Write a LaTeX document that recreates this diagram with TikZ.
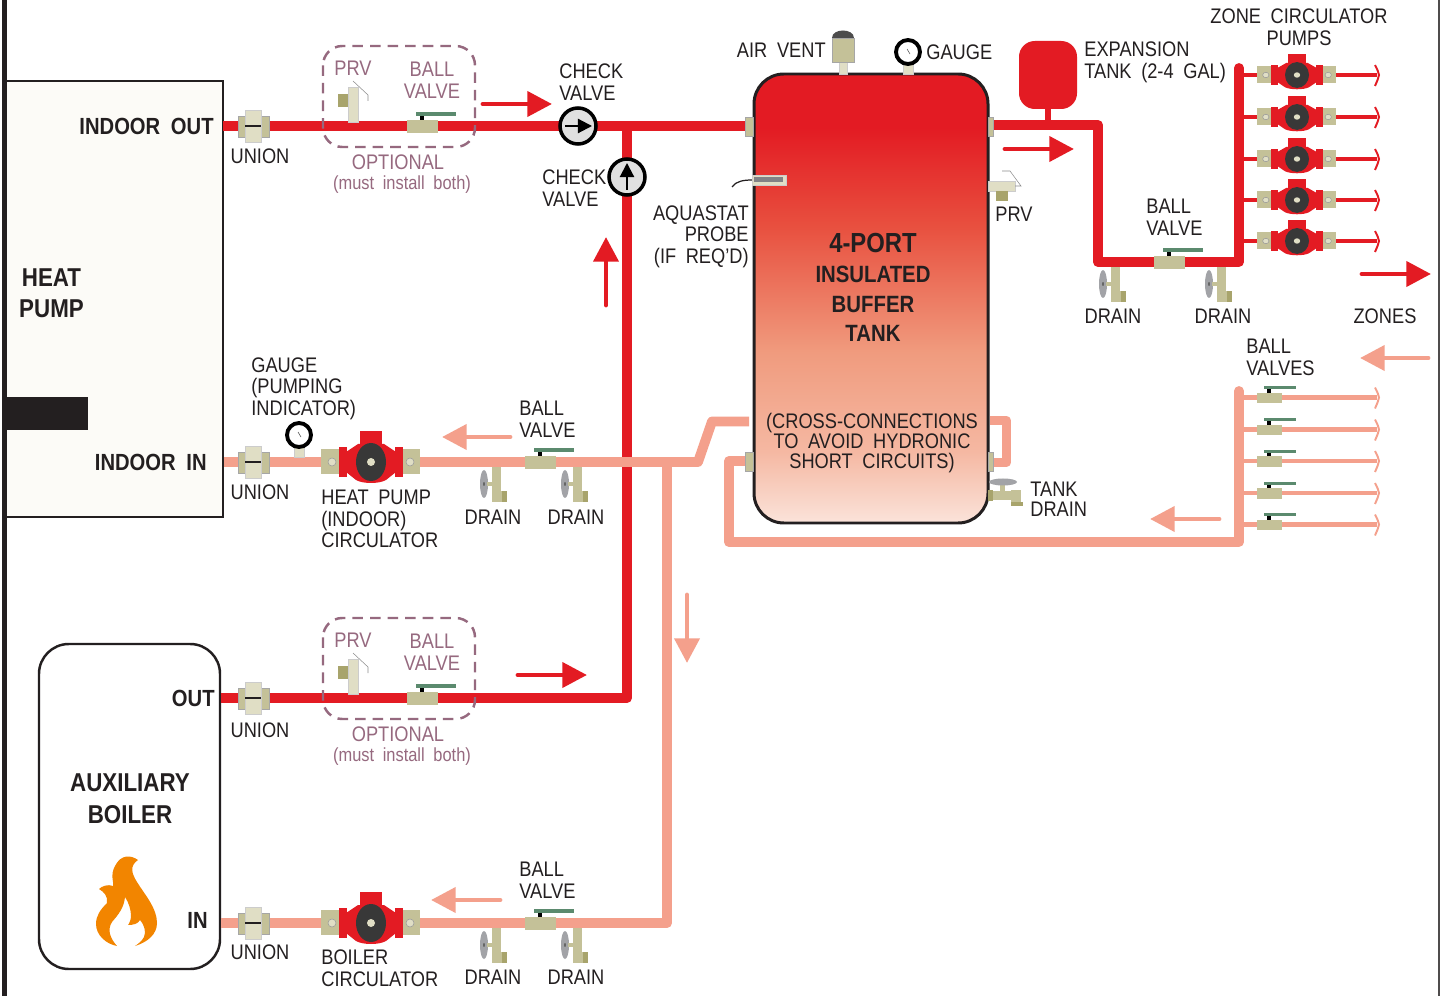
\documentclass[tikz,border=0pt]{standalone}
\usepackage{fontspec}
\setmainfont[FakeStretch=0.865,WordSpace=1.9]{Liberation Sans}
\usetikzlibrary{arrows.meta}
\definecolor{hotred}{HTML}{E31B23}
\definecolor{coolpink}{HTML}{F4A08C}
\definecolor{brass}{HTML}{C4C198}
\definecolor{palebrass}{HTML}{E0DEC5}
\definecolor{darkbrass}{HTML}{A8A46C}
\definecolor{lever}{HTML}{5B8A6E}
\definecolor{plum}{HTML}{96697F}
\definecolor{ink}{HTML}{231F20}
\definecolor{knob}{HTML}{A2A3A7}
\definecolor{flame}{HTML}{F28500}
\definecolor{cream}{HTML}{FCFBF7}
\definecolor{tankA}{HTML}{E8503F}
\definecolor{tankB}{HTML}{F09B7E}
\definecolor{tankC}{HTML}{F5B8A2}
\definecolor{tankD}{HTML}{FBE3DA}
\pgfdeclareverticalshading{tankfade}{100bp}{
	color(0bp)=(tankD);
	color(25bp)=(tankD); color(33bp)=(tankC); color(44bp)=(tankB);
	color(58bp)=(tankA); color(69bp)=(hotred); color(75bp)=(hotred); color(100bp)=(hotred)}
\tikzset{
	hotpipe/.style={draw=hotred, line width=5.6pt, line join=round},
	coolpipe/.style={draw=coolpink, line width=5.6pt, line join=round},
	hotflow/.style={draw=hotred, line width=2.8pt, line cap=round, -{Triangle[length=14pt,width=14pt,fill=hotred]}},
	coolflow/.style={draw=coolpink, line width=2.8pt, line cap=round, -{Triangle[length=14pt,width=14pt,fill=coolpink]}},
	txtlabel/.style={inner sep=0pt, text=ink, align=left, font=\fontsize{12}{12.3}\selectfont},
	optlabel/.style={txtlabel, text=plum},
	boldlabel/.style={inner sep=0pt, text=ink, align=center, font=\fontsize{13.3}{14}\selectfont\bfseries},
	fit brass/.style={fill=brass, draw=black!35, line width=0.3pt},
	fit pale/.style={fill=palebrass, draw=black!20, line width=0.3pt},
}
\def\unionfit(#1,#2){\begin{scope}[shift={(#1,#2)}]
	\draw[fit brass] (-15,-10) rectangle (16,11);
	\draw[fit pale] (-8,-16) rectangle (8,16);
	\draw[ink, line width=0.7pt] (-8,0) -- (8,0);
\end{scope}}
\def\ballvalve(#1,#2,#3){\begin{scope}[shift={(#1,#2)},scale=#3]
	\fill[lever] (-6,-14) rectangle (34,-10);
	\fill[black] (-2,-10) rectangle (2,-6);
	\fill[brass] (-15,-6) rectangle (16,7);
\end{scope}}
\def\drainvalve(#1,#2){\begin{scope}[shift={(#1,#2)}]
	\fill[knob] (-8,17) ellipse (4 and 14);
	\fill[black!60] (-8,17) ellipse (1 and 2);
	\fill[brass] (-5,15) rectangle (1,19);
	\fill[brass] (0,0) rectangle (9,27);
	\fill[brass] (0,24) rectangle (12,35);
	\fill[darkbrass] (10,24) rectangle (15,35);
\end{scope}}
\def\prvfit(#1,#2){\begin{scope}[shift={(#1,#2)}]
	\fill[darkbrass] (-10,-32) rectangle (0,-19);
	\draw[fit pale] (0,-39) rectangle (10,-4);
	\draw[black!45, line width=0.3pt] (5,-45) -- (20,-31) -- (20,-25);
\end{scope}}
\def\dialgauge(#1,#2){\begin{scope}[shift={(#1,#2)}]
	\draw[fit pale] (-5,12) rectangle (5,22);
	\draw[black, line width=2.2pt, fill=white] (0,0) circle (12);
	\draw[black!70, line width=0.3pt] (-1,-3) -- (2,2);
\end{scope}}
\def\circpump(#1,#2,#3,#4){\begin{scope}[shift={(#1,#2)},xscale=#3,yscale=#4]
	\fill[brass] (-50,-13) rectangle (-32,12);
	\fill[brass] (32,-13) rectangle (49,12);
	\draw[fill=palebrass, draw=black!40, line width=0.3pt] (-39,0) circle (4);
	\draw[fill=palebrass, draw=black!40, line width=0.3pt] (39,0) circle (4);
	\fill[hotred] (-11,-31) rectangle (11,-15);
	\fill[hotred] (-32,-15) rectangle (-24,15);
	\fill[hotred] (24,-15) rectangle (32,15);
	\fill[hotred] (-25,-10) -- (-13,-18) -- (13,-18) -- (25,-10) -- (25,10) -- (15,18)
		.. controls (8,22) and (-8,22) .. (-15,18) -- (-25,10) -- cycle;
	\fill[black!78] (0,0) ellipse (15 and 19);
	\fill[palebrass] (0,0) circle (4);
\end{scope}}
\def\pipeend(#1,#2,#3){\draw[#3, line width=1.1pt] (#1-4,#2-10) .. controls (#1-1,#2-4) .. (#1,#2) .. controls (#1-1,#2+4) .. (#1-4,#2+11);}
\def\checkvalve(#1,#2,#3){\begin{scope}[shift={(#1,#2)},rotate=#3]
	\draw[black, line width=2pt, fill=black!12] (0,0) circle (18);
	\draw[black, line width=1.2pt, -{Triangle[length=8pt,width=8pt]}] (-13,0) -- (14,0);
\end{scope}}

\begin{document}
\begin{tikzpicture}[x=0.02cm, y=-0.02cm]
	\useasboundingbox (0,0) rectangle (1440,996);
	%%%%% FRAME AND BOXES %%%%%
	\fill[white] (0,0) rectangle (1440,996);
	\draw[ink, line width=2.6pt] (4.5,0) -- (4.5,996);
	\draw[ink!80, line width=0.8pt] (1439,0) -- (1439,996);
	\draw[ink, line width=1.2pt, fill=cream] (6,81) rectangle (223,517);
	\fill[ink] (3,397) rectangle (88,430);
	\draw[ink, line width=1.4pt, rounded corners=17pt] (39,644) rectangle (220,969);

	%%%%% PIPES %%%%%
	\draw[hotpipe] (223,126) -- (750,126);
	\draw[hotpipe] (221,698) -- (627,698) -- (627,126);
	\draw[hotpipe] (990,125) -- (1098,125) -- (1098,262) -- (1239,262);
	\draw[hotpipe, line cap=round] (1239,262) -- (1239,68);
	\draw[hotpipe, line width=3.6pt] (1048,105) -- (1048,125);
	\draw[coolpipe] (224,462) -- (698,462) -- (712,421.5) -- (749,421.5);
	\draw[coolpipe] (221,923) -- (667,923) -- (667,462);
	\draw[coolpipe] (748,461) -- (729,461) -- (729,542) -- (1239,542);
	\draw[coolpipe, line cap=round] (1239,542) -- (1239,391);
	\draw[coolpipe, line width=5pt] (990,420.5) -- (1006.5,420.5) -- (1006.5,462.5) -- (990,462.5);

	%%%%% ZONES %%%%%
	\foreach \y in {75,117,159,200,241} {
		\draw[hotred, line width=2.8pt] (1239,\y) -- (1377,\y);
		\circpump(1297,\y,0.8,0.68)
		\pipeend(1379,\y,hotred)
	}
	\foreach \y in {397.5,429.5,461,493,524.5} {
		\draw[coolpink, line width=2.6pt] (1239,\y) -- (1377,\y);
		\ballvalve(1269,\y,0.8)
		\pipeend(1379,\y,coolpink)
	}

	%%%%% TANK %%%%%
	\draw[ink, line width=1.7pt, rounded corners=17pt, shading=tankfade] (754,74) rectangle (988,523);
	\draw[fit brass] (745,117) rectangle (753,136);
	\draw[fit brass] (988,117) rectangle (993,136);
	\draw[fit brass] (745,452) rectangle (753,471);
	\draw[fit brass] (988,452) rectangle (993,471);
	\fill[black!70] (832,38) .. controls (832,28) and (854,28) .. (854,38) -- cycle;
	\draw[fit pale] (839,62) rectangle (847,74);
	\draw[fit brass] (832,38) rectangle (854,62);
	\dialgauge(908,52)
	\fill[hotred, rounded corners=9pt] (1019,41) rectangle (1077,109);
	\draw[ink, line width=0.7pt] (732,187) .. controls (736,181) and (744,180) .. (752,180);
	\draw[fit pale] (752,175) rectangle (786,185);
	\fill[knob!80!black] (754,177) rectangle (783,182);
	\draw[fit pale] (988,181) rectangle (1015,191);
	\fill[darkbrass] (996,191) rectangle (1008,201);
	\draw[black!45, line width=0.3pt] (1002,171) -- (1010,171) -- (1021,186) -- (1015,186);
	\fill[darkbrass] (988,490) rectangle (993,501);
	\fill[brass] (993,491) rectangle (1015,500);
	\fill[brass] (1000,485) rectangle (1005,491);
	\fill[brass] (1011,490) rectangle (1021,503);
	\fill[darkbrass] (1011,502) rectangle (1023,506);
	\fill[knob] (1003,482) ellipse (14 and 3.5);

	%%%%% FITTINGS %%%%%
	\unionfit(253,126)
	\unionfit(253,462)
	\unionfit(253,698)
	\unionfit(253,923)
	\prvfit(348,126)
	\prvfit(348,698)
	\ballvalve(422,126,1)
	\ballvalve(422,698,1)
	\ballvalve(540,462,1)
	\ballvalve(540,923,1)
	\ballvalve(1169,262,1)
	\dialgauge(299,435)
	\circpump(371,462,1,1)
	\circpump(371,923,1,1)
	\drainvalve(492,467)
	\drainvalve(573,467)
	\drainvalve(492,928)
	\drainvalve(573,928)
	\drainvalve(1111,267)
	\drainvalve(1217,267)
	\checkvalve(578,126,0)
	\checkvalve(627,177,90)
	\draw[plum, line width=1.4pt, dash pattern=on 6pt off 4pt, rounded corners=11pt] (323,46) rectangle (475,147);
	\draw[plum, line width=1.4pt, dash pattern=on 6pt off 4pt, rounded corners=11pt] (323,618) rectangle (475,719);

	%%%%% FLOW ARROWS %%%%%
	\draw[hotflow] (483,104) -- (552,104);
	\draw[hotflow] (518,675) -- (587,675);
	\draw[hotflow] (606,305) -- (606,237);
	\draw[hotflow] (1005,149) -- (1074,149);
	\draw[hotflow] (1362,274) -- (1431,274);
	\draw[coolflow] (510,437) -- (442,437);
	\draw[coolflow] (500,900) -- (431,900);
	\draw[coolflow] (687,595) -- (687,663);
	\draw[coolflow] (1428,358) -- (1360,358);
	\draw[coolflow] (1219,519) -- (1150,519);

	%%%%% FLAME %%%%%
	\fill[flame] (138,860) .. controls (131,855) and (121,854) .. (115,866)
		.. controls (110,875) and (114,882) .. (113,886) .. controls (108,884) and (102,886) .. (99,889)
		.. controls (104,892) and (108,896) .. (107,903) .. controls (100,910) and (96,916) .. (96,924)
		.. controls (96,935) and (106,944) .. (117,946) .. controls (110,938) and (107,930) .. (112,922)
		.. controls (118,915) and (124,908) .. (125,897) .. controls (129,903) and (131,910) .. (131,916)
		.. controls (131,920) and (129,924) .. (128,925) .. controls (133,925) and (138,924) .. (140,920)
		.. controls (145,926) and (146,932) .. (144,937) .. controls (142,941) and (138,944) .. (135,946)
		.. controls (148,942) and (157,934) .. (157,923) .. controls (157,908) and (145,895) .. (137,882)
		.. controls (132,874) and (129,866) .. (138,860) -- cycle;

	%%%%% TEXT %%%%%
	\node[boldlabel, anchor=east] (indoorOut) at (214,126) {INDOOR OUT};
	\node[boldlabel, anchor=east] (indoorIn) at (207,462) {INDOOR IN};
	\node[boldlabel, font=\fontsize{14.7}{17.6}\selectfont\bfseries] (heatPump) at (51.5,293) {HEAT\\PUMP};
	\node[boldlabel, anchor=east] (boilerOut) at (215,698) {OUT};
	\node[boldlabel, anchor=east] (boilerIn) at (208,920) {IN};
	\node[boldlabel, font=\fontsize{14.7}{18}\selectfont\bfseries] (auxBoiler) at (130,799) {AUXILIARY\\BOILER};
	\node[boldlabel, font=\fontsize{15.7}{18}\selectfont\bfseries] (tankTitle) at (873,243) {4-PORT};
	\node[boldlabel, font=\fontsize{13.4}{16.8}\selectfont\bfseries] (tankSub) at (873,304) {INSULATED\\BUFFER\\TANK};
	\node[txtlabel, align=center, font=\fontsize{12}{11.2}\selectfont] (tankNote) at (872,443) {(CROSS-CONNECTIONS\\TO AVOID HYDRONIC\\SHORT CIRCUITS)};
	\node[txtlabel] (unionA) at (260,156) {UNION};
	\node[txtlabel] (unionB) at (260,492) {UNION};
	\node[txtlabel] (unionC) at (260,730) {UNION};
	\node[txtlabel] (unionD) at (260,952) {UNION};
	\node[optlabel] (prvA) at (353,68) {PRV};
	\node[optlabel, align=center] (ballA) at (432,80) {BALL\\VALVE};
	\node[optlabel] (optA) at (398,162) {OPTIONAL};
	\node[optlabel, font=\fontsize{10.8}{12}\selectfont] (bothA) at (402,185) {(must install both)};
	\node[optlabel] (prvB) at (353,640) {PRV};
	\node[optlabel, align=center] (ballB) at (432,652) {BALL\\VALVE};
	\node[optlabel] (optB) at (398,734) {OPTIONAL};
	\node[optlabel, font=\fontsize{10.8}{12}\selectfont] (bothB) at (402,757) {(must install both)};
	\node[txtlabel, anchor=west] (checkA) at (559,82) {CHECK\\VALVE};
	\node[txtlabel, anchor=west] (checkB) at (542,188) {CHECK\\VALVE};
	\node[txtlabel, anchor=west] (gaugeHp) at (251,388.5) {GAUGE\\(PUMPING\\INDICATOR)};
	\node[txtlabel, anchor=west] (ballC) at (519,419.5) {BALL\\VALVE};
	\node[txtlabel, anchor=west] (ballD) at (519,880.5) {BALL\\VALVE};
	\node[txtlabel, anchor=west] (ballE) at (1146,217.5) {BALL\\VALVE};
	\node[txtlabel, anchor=west] (hpCirc) at (321,519) {HEAT PUMP\\(INDOOR)\\CIRCULATOR};
	\node[txtlabel, anchor=west] (boilerCirc) at (321,968.5) {BOILER\\CIRCULATOR};
	\node[txtlabel] (drainA) at (493,517) {DRAIN};
	\node[txtlabel] (drainB) at (576,517) {DRAIN};
	\node[txtlabel] (drainC) at (493,977) {DRAIN};
	\node[txtlabel] (drainD) at (576,977) {DRAIN};
	\node[txtlabel] (drainE) at (1113,316) {DRAIN};
	\node[txtlabel] (drainF) at (1223,316) {DRAIN};
	\node[txtlabel, anchor=east] (airVent) at (826,50) {AIR VENT};
	\node[txtlabel, anchor=west] (gaugeTank) at (926,52) {GAUGE};
	\node[txtlabel, anchor=west] (expTank) at (1084,62.5) {EXPANSION\\TANK (2-4 GAL)};
	\node[txtlabel, align=center] (zonePumps) at (1299,27.5) {ZONE CIRCULATOR\\PUMPS};
	\node[txtlabel] (zones) at (1385,316) {ZONES};
	\node[txtlabel, anchor=west] (ballF) at (1246,357.5) {BALL\\VALVES};
	\node[txtlabel, anchor=east, align=right] (aquastat) at (749,236.5) {AQUASTAT\\PROBE\\(IF REQ'D)};
	\node[txtlabel] (prvTank) at (1014,214) {PRV};
	\node[txtlabel, anchor=west, font=\fontsize{12}{11.4}\selectfont] (tankDrain) at (1030,499) {TANK\\DRAIN};
\end{tikzpicture}
\end{document}
